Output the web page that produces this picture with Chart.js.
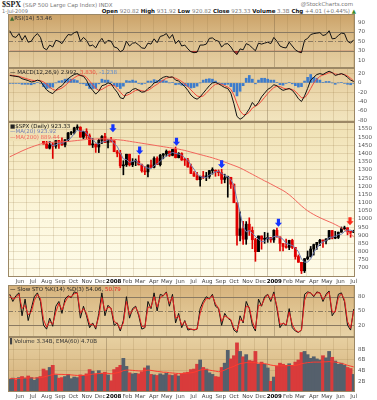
<!DOCTYPE html>
<html>
<head>
<meta charset="utf-8">
<script src="https://cdn.jsdelivr.net/npm/chart.js@4.4.0/dist/chart.umd.min.js"></script>
<style>
html, body { margin: 0; padding: 0; background: #fff; width: 377px; height: 400px; overflow: hidden; }
canvas { position: absolute; left: 0; }
.t { position: absolute; white-space: nowrap; font-family: "DejaVu Sans", Verdana, sans-serif; font-size: 5.5px; color: #777; }
.t b { color: #111; }
</style>
</head>
<body>
<div class="t" style="left:2px;top:0px;"><span style="font:bold 8px 'Liberation Serif';color:#222;">$SPX</span> (S&amp;P 500 Large Cap Index) INDX</div>
<div class="t" style="right:24px;top:1px;">@StockCharts.com</div>
<div class="t" style="left:2px;top:7.5px;font-size:5px;">1-Jul-2009</div>
<div class="t" style="right:21px;top:7.5px;"><b>Open</b> 920.82 <b>High</b> 931.92 <b>Low</b> 920.82 <b>Close</b> 923.33 <b>Volume</b> 3.3B <b>Chg</b> +4.01 (+0.44%) <span style="color:#3a8a2a">&#9650;</span></div>

<canvas id="rsi" width="377" height="54" style="top:14px"></canvas>
<canvas id="macd" width="377" height="54" style="top:68px"></canvas>
<canvas id="price" width="377" height="163" style="top:122px"></canvas>
<canvas id="sto" width="377" height="52" style="top:285px"></canvas>
<canvas id="vol" width="377" height="63" style="top:337px"></canvas>

<script>
// weekly samples, one per week starting at firstWeek
var firstWeek = '2007-05-09';
var xStart = '2007-05-05', xEnd = '2009-07-04';
var monthLabels = ['Jun','Jul','Aug','Sep','Oct','Nov','Dec','2008','Feb','Mar','Apr','May','Jun',
	'Jul','Aug','Sep','Oct','Nov','Dec','2009','Feb','Mar','Apr','May','Jun','Jul'];

var opens = [1505,1505,1522,1515,1536,1507,1533,1502,1504,1530,1552,1534,1458,1433,1453,1445,1479,1474,1453,1484,
	1525,1527,1557,1561,1500,1535,1509,1453,1458,1440,1481,1504,1468,1484,1478,1411,1401,1325,1331,1396,
	1331,1349,1353,1331,1294,1288,1330,1316,1370,1332,1390,1398,1414,1389,1425,1375,1400,1361,1360,1318,
	1278,1262,1240,1260,1257,1260,1296,1298,1292,1283,1242,1252,1255,1213,1099,899,940,876,968,930,
	873,800,896,876,879,887,872,931,890,850,832,826,869,826,770,735,683,757,768,816,
	843,857,870,866,877,929,883,887,919,940,946,921,918];
var highs = [1513,1523,1529,1540,1540,1538,1540,1516,1532,1555,1556,1547,1488,1504,1466,1480,1481,1496,1485,1530,
	1535,1561,1576,1564,1535,1552,1520,1492,1458,1488,1510,1523,1486,1500,1478,1420,1420,1356,1396,1396,
	1369,1367,1388,1336,1321,1331,1360,1380,1380,1395,1400,1422,1416,1426,1440,1406,1405,1370,1371,1336,
	1290,1285,1262,1291,1285,1297,1313,1300,1300,1304,1274,1262,1255,1213,1099,1044,985,984,1007,951,
	882,896,896,918,914,887,934,944,890,850,877,870,876,826,780,735,758,804,832,846,
	856,875,870,880,930,930,924,920,951,956,946,922,931];
var lows = [1491,1496,1500,1510,1487,1492,1502,1484,1503,1509,1529,1458,1432,1428,1370,1432,1432,1449,1440,1477,
	1515,1520,1546,1500,1490,1492,1453,1437,1407,1406,1460,1467,1435,1470,1411,1380,1313,1270,1321,1324,
	1320,1326,1330,1286,1271,1257,1312,1312,1332,1324,1368,1384,1382,1386,1373,1373,1358,1327,1317,1278,
	1260,1238,1200,1247,1234,1248,1274,1261,1264,1217,1221,1133,1187,1099,840,865,845,845,899,818,
	741,800,815,851,857,857,857,888,804,805,822,812,818,754,735,666,672,750,768,779,
	814,836,826,847,877,878,879,880,919,934,903,888,916];
var closes = [1505,1522,1515,1536,1507,1533,1502,1503,1530,1552,1534,1458,1433,1453,1445,1479,1474,1453,1484,1525,
	1527,1557,1561,1500,1535,1509,1453,1458,1440,1481,1504,1468,1484,1478,1411,1401,1325,1331,1396,1331,
	1349,1353,1331,1294,1288,1330,1316,1370,1332,1390,1398,1414,1389,1425,1375,1400,1361,1360,1318,1278,
	1262,1240,1260,1257,1260,1296,1298,1292,1283,1242,1252,1255,1213,1099,899,940,876,968,930,873,
	800,896,876,879,887,872,931,890,850,832,826,869,826,770,735,683,757,768,816,843,
	857,870,866,877,929,883,887,919,940,946,921,918,923];
var ma20 = [1500,1508,1512,1520,1520,1523,1520,1511,1517,1522,1530,1519,1494,1470,1447,1453,1463,1463,1473,1484,
	1497,1523,1543,1536,1538,1526,1499,1489,1465,1458,1471,1473,1484,1484,1460,1444,1404,1367,1363,1346,
	1352,1357,1341,1332,1317,1311,1307,1326,1337,1352,1373,1384,1398,1407,1401,1397,1390,1374,1360,1329,
	1305,1275,1260,1255,1254,1268,1278,1287,1292,1279,1267,1258,1241,1205,1117,1038,954,921,929,912,
	893,875,861,863,885,879,892,895,886,876,850,844,838,823,800,754,736,736,756,796,
	821,847,859,868,886,889,894,905,907,923,932,931,924];
var ma200 = [1380,1389,1398,1407,1416,1424,1432,1439,1446,1452,1458,1463,1466,1468,1469,1470,1471,1472,1473,1474,
	1476,1478,1480,1482,1484,1486,1487,1488,1489,1490,1490,1490,1489,1488,1487,1485,1483,1481,1478,1475,
	1472,1469,1466,1463,1460,1457,1454,1451,1448,1445,1442,1439,1436,1433,1430,1427,1423,1419,1414,1409,
	1404,1399,1394,1389,1384,1379,1374,1368,1362,1355,1348,1341,1334,1327,1320,1312,1303,1293,1283,1273,
	1263,1253,1243,1233,1224,1214,1204,1194,1184,1174,1162,1148,1132,1115,1097,1080,1064,1050,1038,1027,
	1017,1008,999,991,983,975,966,956,945,933,920,906,891];
var priceTicks = [700,750,800,850,900,950,1000,1050,1100,1150,1200,1250,1300,1350,1400,1450,1500,1550];
// marked peaks: week offset and price level of the arrow tip
var arrowWeeks = [23.5, 33.6, 42.3, 54.3, 69, 87.5, 110.8];
var arrowTips = [1586, 1530, 1394, 1447, 1310, 952, 962];
var arrowColors = ['#1535ff','#1535ff','#1535ff','#1535ff','#1535ff','#1535ff','#ff2a1a'];

var rsi = [72,60,58,66,52,62,48,50,60,66, 58,36,32,42,38,52,50,45,55,64,
	63,68,70,50,58,52,40,42,36,48, 56,45,52,50,38,36,28,32,50,40,
	46,47,42,36,35,46,44,55,47,60, 62,66,56,64,45,52,40,42,34,28,
	26,27,42,42,44,56,57,52,50,38, 44,45,38,28,22,34,32,45,42,36,
	30,46,44,46,48,45,58,50,40,37, 36,48,40,32,28,26,52,56,64,66,
	67,68,62,64,72,55,56,62,67,66, 50,46,53];
var rsiTicks = [10,30,50,70,90];

var macd = [16,15,14,13,9,7,5,2,3,6, 4,-6,-15,-20,-23,-16,-10,-6,2,9,
	14,18,20,16,14,6,-8,-16,-24,-18, -6,-4,0,-2,-12,-20,-32,-34,-22,-20,
	-14,-12,-16,-20,-19,-12,-8,0,2,8, 12,14,12,13,6,4,-2,-8,-16,-26,
	-32,-35,-30,-22,-14,-6,0,1,-2,-6, -10,-12,-22,-45,-72,-78,-74,-66,-56,-42,
	-50,-42,-30,-22,-14,-10,-4,-6,-12,-16, -14,-12,-16,-24,-34,-40,-28,-12,6,12,
	18,20,18,22,25,22,16,18,20,17, 12,6,3];
var macdSignal = [17,16,15,14,12,10,8,6,5,5, 5,2,-3,-9,-14,-16,-14,-11,-6,0,
	6,11,15,17,16,12,4,-4,-12,-16, -14,-10,-6,-4,-6,-12,-20,-27,-27,-24,
	-20,-16,-15,-17,-18,-16,-12,-7,-3,2, 6,10,12,12,10,7,3,-2,-8,-15,
	-22,-28,-30,-28,-22,-15,-8,-3,-2,-3, -6,-9,-14,-26,-44,-60,-68,-68,-63,-54,
	-50,-46,-39,-31,-23,-16,-10,-7,-8,-11, -13,-13,-14,-18,-25,-32,-32,-24,-12,0,
	8,14,17,19,22,22,19,18,19,18, 15,10,4];
var macdHist = [-1,-1,-1,-1,-3,-3,-3,-4,-2,1, -1,-8,-12,-11,-9,0,4,5,8,9,
	8,7,5,-1,-2,-6,-12,-12,-12,-2, 8,6,6,2,-6,-8,-12,-7,5,4,
	6,4,-1,-3,-1,4,4,7,5,6, 6,4,0,1,-4,-3,-5,-6,-8,-11,
	-10,-7,0,6,8,9,8,4,0,-3, -4,-3,-8,-19,-28,-18,-6,10,16,8,
	-2,6,10,10,8,6,6,1,-4,-5, -1,1,-2,-6,-9,-8,4,12,18,12,
	10,6,1,3,3,0,-3,0,1,-1, -3,-4,-1];
var macdTicks = [-80,-60,-40,-20,0,20];

var stoK = [85,70,82,88,40,75,30,55,80,88, 70,20,12,35,18,60,70,45,75,82,
	78,90,88,35,60,40,15,25,12,45, 88,40,62,55,20,25,8,30,80,35,
	55,60,40,12,15,70,55,88,50,85, 82,90,60,85,25,45,15,30,10,12,
	10,12,55,70,80,75,85,60,55,20, 45,35,30,10,5,40,25,70,55,20,
	8,75,60,80,85,70,90,55,15,25, 20,55,15,8,5,10,85,90,88,80,
	90,88,70,85,92,40,50,85,88,70, 20,10,54];
var stoD = [82,75,78,85,55,62,42,48,72,85, 76,32,16,28,22,48,66,52,68,80,
	80,86,88,45,55,45,22,22,16,38, 78,50,58,56,28,24,12,25,70,42,
	52,58,44,18,16,58,58,80,58,78, 82,88,66,80,35,40,20,28,14,12,
	11,12,45,65,76,76,82,65,56,28, 40,36,32,14,8,32,28,60,58,28,
	12,62,62,76,84,74,86,60,22,24, 21,48,22,10,6,10,72,88,88,82,
	88,88,74,82,90,48,48,78,86,74, 28,14,51];
var stoTicks = [20,50,80];

// volume in billions of shares
var volume = [2.4,2.6,2.3,2.7, 2.9,2.6,3.0,2.7, 2.2,2.7,2.9,4.3, 4.0,4.6,5.0,3.2,2.6, 2.7,2.9,3.3,2.5,
	2.8,2.7,3.2,3.1,3.4, 4.2,3.9,3.4,4.0, 3.5,3.7,3.2,2.1, 4.2,4.6,5.0,6.3,4.8, 3.6,3.4,3.5,3.4,
	3.8,4.5,4.9,3.3,3.2, 3.1,3.4,3.2,3.5, 3.2,3.1,3.3,3.0, 3.4,3.6,3.7,4.2,4.3, 5.2,6.0,4.6,4.3,
	3.6,3.3,2.9,2.8, 4.6,5.4,7.8,6.2, 6.8,9.2,7.6,6.6,7.0, 5.9,5.8,7.6,5.2, 5.6,5.2,4.5,2.0,2.8,
	4.8,5.4,5.2,5.0, 5.3,5.0,5.6,6.0, 7.4,7.6,7.0,6.3,6.6, 6.2,6.0,6.8,6.4, 7.6,6.5,5.8,5.2,
	5.4,5.0,4.6,4.4,3.3];
var volEma = [2.5,2.5,2.5,2.55,2.6,2.6,2.65,2.65,2.6,2.65,2.7,2.8,
	2.95,3.1,3.3,3.35,3.3,3.3,3.25,3.25,3.2,
	3.15,3.1,3.1,3.1,3.15,3.25,3.35,3.4,3.45,
	3.5,3.5,3.5,3.4,3.5,3.6,3.75,4.0,4.1,
	4.1,4.05,4.0,3.95,3.95,4.0,4.1,4.05,3.95,
	3.85,3.8,3.7,3.7,3.6,3.55,3.5,3.45,3.45,3.5,3.55,3.6,
	3.7,3.9,4.1,4.2,4.2,4.1,4.0,3.9,3.8,
	3.9,4.1,4.4,4.6,4.8,5.1,5.3,5.4,5.5,
	5.5,5.5,5.5,5.4,5.35,5.3,5.2,5.05,4.95,
	4.9,4.9,4.9,4.9,4.95,4.95,5.0,5.1,
	5.3,5.4,5.5,5.55,5.6,5.6,5.6,5.65,5.65,
	5.7,5.65,5.6,5.5,5.35,5.2,5.0,4.85,4.7];
var volTicks = [2,4,6,8];

var family = '"DejaVu Sans", Verdana, sans-serif';
var frame = '#9c8866';

function dayOf(s) {
	var p = s.split('-');
	return Date.UTC(+p[0], +p[1] - 1, +p[2]) / 864e5;
}
var weekX = opens.map(function (v, i) { return dayOf(firstWeek) + 7 * i; });
var monthX = monthLabels.map(function (v, k) { return Date.UTC(2007, 5 + k, 1) / 864e5; });
function isYear(i) { return /^\d{4}$/.test(monthLabels[i] || ''); }
function series(arr) {
	return arr.map(function (v, i) { return { x: weekX[i], y: v }; });
}

function xScale(show) {
	return {
		type: 'linear', min: dayOf(xStart), max: dayOf(xEnd), offset: false,
		afterBuildTicks: function (s) { s.ticks = monthX.map(function (v) { return { value: v }; }); },
		afterFit: function (s) { s.height = show ? 8 : 0; s.paddingLeft = 0; s.paddingRight = 0; },
		border: { display: false },
		grid: {
			drawTicks: false,
			color: function (c) { return isYear(c.index) ? 'rgba(110,90,60,0.35)' : 'rgba(150,120,70,0.2)'; }
		},
		ticks: {
			display: show, autoSkip: false, maxRotation: 0, padding: 1,
			color: function (c) { return isYear(c.index) ? '#000' : '#444'; },
			font: function (c) { return { family: family, size: 5.5, weight: isYear(c.index) ? 'bold' : 'normal' }; },
			callback: function (v, i) { return monthLabels[i]; }
		}
	};
}

function yScale(min, max, vals, gridColor, fmt) {
	return {
		position: 'right', min: min, max: max,
		afterBuildTicks: function (s) { s.ticks = vals.map(function (v) { return { value: v }; }); },
		afterFit: function (s) { s.width = 22; s.paddingTop = 0; s.paddingBottom = 0; },
		border: { display: false },
		grid: { drawTicks: false, color: gridColor },
		ticks: {
			padding: 3, autoSkip: false, color: '#555', font: { family: family, size: 5.5 },
			callback: fmt || function (v) { return v; }
		}
	};
}

function opts(scales) {
	return {
		responsive: false, animation: false, devicePixelRatio: 1, events: [],
		layout: { padding: { left: 8, right: 0, top: 0, bottom: 0 } },
		plugins: { legend: { display: false }, tooltip: { enabled: false } },
		scales: scales
	};
}

// background gradient, reference lines, legend text and frame of one panel
function panel(cfg) {
	return {
		id: 'panel',
		beforeDraw: function (chart) {
			var ctx = chart.ctx, a = chart.chartArea;
			var g = ctx.createLinearGradient(0, a.top, 0, a.bottom);
			cfg.bg.forEach(function (c, k) { g.addColorStop(k / (cfg.bg.length - 1), c); });
			ctx.save();
			ctx.fillStyle = g;
			ctx.fillRect(a.left, a.top, a.right - a.left, a.bottom - a.top);
			ctx.restore();
		},
		beforeDatasetsDraw: function (chart) {
			var ctx = chart.ctx, a = chart.chartArea, y = chart.scales.y;
			(cfg.refs || []).forEach(function (r) {
				var py = Math.round(y.getPixelForValue(r.v)) + 0.5;
				ctx.save();
				ctx.strokeStyle = r.c;
				ctx.lineWidth = 1;
				ctx.setLineDash(r.dash || []);
				ctx.beginPath();
				ctx.moveTo(a.left, py);
				ctx.lineTo(a.right, py);
				ctx.stroke();
				ctx.restore();
			});
		},
		afterDatasetsDraw: function (chart) {
			var ctx = chart.ctx, a = chart.chartArea;
			ctx.save();
			if (cfg.arrows) {
				var xs = chart.scales.x, ys = chart.scales.y;
				arrowWeeks.forEach(function (w, k) {
					var px = xs.getPixelForValue(dayOf(firstWeek) + 7 * w);
					var py = ys.getPixelForValue(arrowTips[k]);
					ctx.fillStyle = arrowColors[k];
					ctx.beginPath();
					ctx.moveTo(px - 1.6, py - 8);
					ctx.lineTo(px + 1.6, py - 8);
					ctx.lineTo(px + 1.6, py - 4);
					ctx.lineTo(px + 3.6, py - 4);
					ctx.lineTo(px, py);
					ctx.lineTo(px - 3.6, py - 4);
					ctx.lineTo(px - 1.6, py - 4);
					ctx.closePath();
					ctx.fill();
				});
			}
			if (cfg.box) {
				ctx.fillStyle = cfg.box.c;
				ctx.fillRect(a.left + 1, a.top + 1, cfg.box.w, cfg.box.h);
			}
			ctx.font = '5.5px ' + family;
			ctx.textBaseline = 'middle';
			cfg.rows.forEach(function (row, r) {
				var x = a.left + 2, y = a.top + 4.5 + r * 5.5;
				row.forEach(function (seg) {
					ctx.fillStyle = seg[1];
					ctx.fillText(seg[0], x, y);
					x += ctx.measureText(seg[0]).width;
				});
			});
			ctx.strokeStyle = frame;
			ctx.lineWidth = 1;
			ctx.strokeRect(a.left + 0.5, a.top + 0.5, a.right - a.left - 1, a.bottom - a.top - 1);
			ctx.restore();
		}
	};
}

var refColor = '#8a7a62';
var clear = 'rgba(0,0,0,0)';
var softGrid = 'rgba(150,120,70,0.2)';

// RSI
new Chart(document.getElementById('rsi'), {
	type: 'line',
	data: { datasets: [{
		data: series(rsi), borderColor: '#111', borderWidth: 1, pointRadius: 0,
		fill: { target: { value: 30 }, above: clear, below: 'rgba(165,30,30,0.8)' }
	}] },
	options: opts({ x: xScale(false), y: yScale(-6, 107, rsiTicks, clear) }),
	plugins: [panel({
		bg: ['#cba268', '#dcbf8d', '#e6d0a4'],
		refs: [{ v: 70, c: refColor }, { v: 50, c: refColor, dash: [5, 2, 1, 2] }, { v: 30, c: refColor }],
		rows: [[['\u25B2', '#3f6b2f'], ['RSI(14) 53.46', '#333']]]
	})]
});

// MACD
new Chart(document.getElementById('macd'), {
	type: 'bar',
	data: { datasets: [
		{ type: 'line', data: series(macd), borderColor: '#111', borderWidth: 1, pointRadius: 0, order: 0 },
		{ type: 'line', data: series(macdSignal), borderColor: '#f24a3c', borderWidth: 1, pointRadius: 0, order: 1 },
		{ type: 'bar', data: series(macdHist), backgroundColor: '#3d7ccc', barThickness: 2, grouped: false, order: 2 }
	] },
	options: opts({ x: xScale(false), y: yScale(-84, 32, macdTicks, softGrid) }),
	plugins: [panel({
		bg: ['#e2c796', '#ecd9ae', '#f2e5bf'],
		rows: [[['\u2014 ', '#000'], ['MACD(12,26,9) 2.992, ', '#222'], ['3.830, ', '#f24a3c'], ['-1.238', '#5a8ad0']]]
	})]
});

// price
var candleColor = closes.map(function (c, i) { return c < opens[i] ? '#e00000' : '#000000'; });
new Chart(document.getElementById('price'), {
	type: 'bar',
	data: { datasets: [
		{ type: 'line', data: series(ma200), borderColor: '#f2665c', borderWidth: 1, pointRadius: 0, order: 0 },
		{ type: 'line', data: series(ma20), borderColor: '#6f7db5', borderWidth: 1, pointRadius: 0, order: 1 },
		{ type: 'bar', data: opens.map(function (o, i) { return { x: weekX[i], y: [o, closes[i]] }; }),
			backgroundColor: candleColor, barThickness: 2.2, minBarLength: 1, grouped: false, order: 2 },
		{ type: 'bar', data: lows.map(function (l, i) { return { x: weekX[i], y: [l, highs[i]] }; }),
			backgroundColor: candleColor, barThickness: 1, grouped: false, order: 3 }
	] },
	options: opts({ x: xScale(true), y: yScale(645, 1593, priceTicks, softGrid) }),
	plugins: [panel({
		bg: ['#efe0b3', '#f8eecb', '#fdf8df', '#fefbe8'],
		arrows: true,
		box: { w: 42, h: 18, c: '#efe1b5' },
		rows: [
			[['\u25A0', '#222'], ['$SPX (Daily) 923.33', '#111']],
			[['\u2014', '#6f7db5'], ['MA(20) 923.92', '#6f7db5']],
			[['\u2014', '#f2665c'], ['MA(200) 889.44', '#f2665c']]
		]
	})]
});

// slow stochastic
new Chart(document.getElementById('sto'), {
	type: 'line',
	data: { datasets: [
		{ data: series(stoK), borderColor: '#111', borderWidth: 1, pointRadius: 0, order: 1 },
		{ data: series(stoD), borderColor: '#e82020', borderWidth: 1, pointRadius: 0, order: 0 }
	] },
	options: opts({ x: xScale(false), y: yScale(-4.5, 104.5, stoTicks, clear) }),
	plugins: [panel({
		bg: ['#d6b27c', '#e0c491', '#e8d3a7'],
		refs: [{ v: 80, c: refColor }, { v: 50, c: refColor, dash: [5, 2, 1, 2] }, { v: 20, c: refColor }],
		rows: [[['\u2014 ', '#000'], ['Slow STO %K(14) %D(3) 54.06, ', '#222'], ['50.79', '#e82020']]]
	})]
});

// volume
var volColor = closes.map(function (c, i) { return c < opens[i] ? '#d93b3b' : '#55606c'; });
new Chart(document.getElementById('vol'), {
	type: 'bar',
	data: { datasets: [
		{ type: 'line', data: series(volEma), borderColor: '#ff3b30', borderWidth: 1, pointRadius: 0, order: 0 },
		{ type: 'bar', data: series(volume), backgroundColor: volColor, barThickness: 3.1, grouped: false, order: 1 }
	] },
	options: opts({ x: xScale(true), y: yScale(0, 10.3, volTicks, softGrid, function (v) { return v + 'B'; }) }),
	plugins: [panel({
		bg: ['#e7d0a1', '#ddbf8c', '#d3ae79'],
		rows: [[['\u258C', '#444'], ['Volume 3.34B, EMA(60) 4.70B', '#333']]]
	})]
});
</script>
</body>
</html>
